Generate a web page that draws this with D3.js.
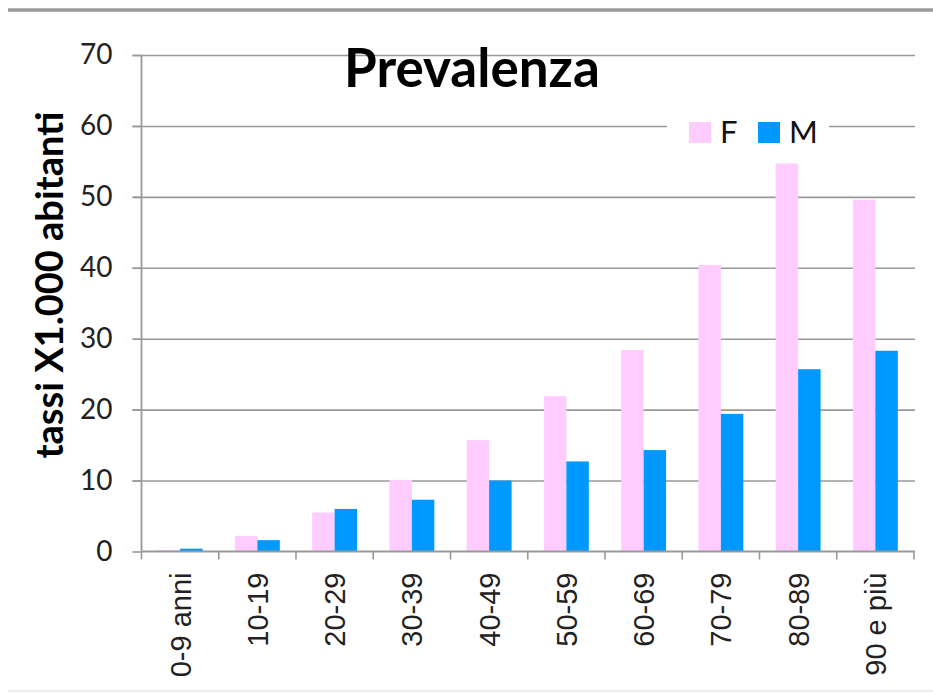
<!DOCTYPE html>
<html>
<head>
<meta charset="utf-8">
<script src="https://cdn.jsdelivr.net/npm/d3@7"></script>
<style>
  html, body { margin: 0; padding: 0; background: #fff; }
  svg { display: block; }
</style>
</head>
<body>
<svg id="chart" width="933" height="693"></svg>
<script>
const ageGroups = ["0-9 anni", "10-19", "20-29", "30-39", "40-49", "50-59", "60-69", "70-79", "80-89", "90 e più"];
const femaleRates = [0.2, 2.2, 5.5, 10.1, 15.7, 21.9, 28.4, 40.4, 54.7, 49.6];
const maleRates = [0.4, 1.6, 6.0, 7.3, 10.0, 12.7, 14.3, 19.4, 25.7, 28.3];
const yTicks = [0, 10, 20, 30, 40, 50, 60, 70];
const seriesNames = ["F", "M"];
const seriesColors = { F: "#FFCCFF", M: "#0099FF" };

const svg = d3.select("#chart");
const width = 933;
const margin = { top: 55, right: 18, bottom: 141.5, left: 141.5 };
const plotBottom = 693 - margin.bottom;
const plotRight = width - margin.right;

const sansLabel = "Lato, 'Open Sans', sans-serif";
const arialLike = "'Liberation Sans', Arial, sans-serif";

const rows = ageGroups.map((g, i) => ({ group: g, F: femaleRates[i], M: maleRates[i] }));

const x = d3.scaleBand()
  .domain(ageGroups)
  .range([margin.left, plotRight - 1])
  .padding(0);

const xSeries = d3.scaleBand()
  .domain(seriesNames)
  .range([0, x.bandwidth()])
  .paddingInner(0)
  .paddingOuter(0.72);

const y = d3.scaleLinear()
  .domain([0, 70])
  .range([plotBottom, margin.top]);

// top rule
svg.append("line")
  .attr("x1", 8).attr("x2", width)
  .attr("y1", 10).attr("y2", 10)
  .attr("stroke", "#9a9a9a")
  .attr("stroke-width", 3.5);

// faint bottom rule
svg.append("line")
  .attr("x1", 8).attr("x2", width)
  .attr("y1", 691).attr("y2", 691)
  .attr("stroke", "#ececec")
  .attr("stroke-width", 2);

// gridlines (with left ticks)
svg.append("g")
  .attr("class", "grid")
  .attr("transform", `translate(${margin.left},0)`)
  .call(d3.axisLeft(y).tickValues(yTicks.slice(1)).tickSize(-(plotRight - margin.left)).tickFormat(""))
  .call((g) => g.select(".domain").remove())
  .call((g) => g.selectAll("line")
    .attr("x1", -9)
    .attr("stroke", "#999")
    .attr("stroke-width", 1.6));

// bars
const groups = svg.append("g")
  .selectAll("g")
  .data(rows)
  .join("g")
  .attr("transform", (d) => `translate(${x(d.group)},0)`);

groups.selectAll("rect")
  .data((d) => seriesNames.map((s) => ({ key: s, value: d[s] })))
  .join("rect")
  .attr("x", (d) => xSeries(d.key))
  .attr("width", xSeries.bandwidth())
  .attr("y", (d) => y(d.value))
  .attr("height", (d) => y(0) - y(d.value))
  .attr("fill", (d) => seriesColors[d.key]);

// y axis
svg.append("g")
  .attr("class", "axis")
  .attr("transform", `translate(${margin.left},0)`)
  .call(d3.axisLeft(y).tickValues(yTicks).tickSize(9).tickPadding(20))
  .call((g) => g.select(".domain")
    .attr("d", `M0,${margin.top}V${plotBottom}`)
    .attr("stroke", "#999")
    .attr("stroke-width", 1.8))
  .call((g) => g.selectAll(".tick line").attr("stroke", "#999").attr("stroke-width", 1.6))
  .call((g) => g.selectAll(".tick text")
    .attr("font-family", sansLabel)
    .attr("font-size", 28)
    .attr("fill", "#222"));

// x axis: ticks at category boundaries
const xAxis = svg.append("g")
  .attr("class", "axis")
  .attr("transform", `translate(0,${plotBottom})`);

xAxis.append("line")
  .attr("x1", margin.left).attr("x2", plotRight)
  .attr("stroke", "#999")
  .attr("stroke-width", 1.8);

xAxis.selectAll(".tick-mark")
  .data(ageGroups.concat(["end"]))
  .join("line")
  .attr("class", "tick-mark")
  .attr("x1", (d, i) => i < ageGroups.length ? x(d) : x.range()[1])
  .attr("x2", (d, i) => i < ageGroups.length ? x(d) : x.range()[1])
  .attr("y1", 0).attr("y2", 8)
  .attr("stroke", "#999")
  .attr("stroke-width", 1.6);

xAxis.selectAll(".label")
  .data(ageGroups)
  .join("text")
  .attr("class", "label")
  .attr("transform", (d) => `translate(${x(d) + x.bandwidth() / 2},21) rotate(-90)`)
  .attr("text-anchor", "end")
  .attr("dy", "0.36em")
  .attr("font-family", arialLike)
  .attr("font-size", 29)
  .attr("fill", "#222")
  .text((d) => d);

// y axis title
svg.append("text")
  .attr("transform", "translate(50,285) rotate(-90)")
  .attr("text-anchor", "middle")
  .attr("dy", "0.35em")
  .attr("font-family", sansLabel)
  .attr("font-weight", 700)
  .attr("font-size", 38)
  .attr("fill", "#000")
  .text("tassi X1.000 abitanti");

// chart title
svg.append("text")
  .attr("x", 344)
  .attr("y", 87)
  .attr("font-family", sansLabel)
  .attr("font-weight", 700)
  .attr("font-size", 53)
  .attr("fill", "#000")
  .text("Prevalenza");

// legend
const legend = svg.append("g").attr("transform", "translate(667,111)");
legend.append("rect")
  .attr("width", 162).attr("height", 40)
  .attr("fill", "#fff");

const legendItems = legend.selectAll("g")
  .data(seriesNames)
  .join("g")
  .attr("transform", (d, i) => `translate(${22 + i * 69},11)`);

legendItems.append("rect")
  .attr("width", 22).attr("height", 21)
  .attr("fill", (d) => seriesColors[d]);

legendItems.append("text")
  .attr("x", 31)
  .attr("y", 21)
  .attr("font-family", sansLabel)
  .attr("font-size", 31)
  .attr("fill", "#111")
  .text((d) => d);
</script>
</body>
</html>
